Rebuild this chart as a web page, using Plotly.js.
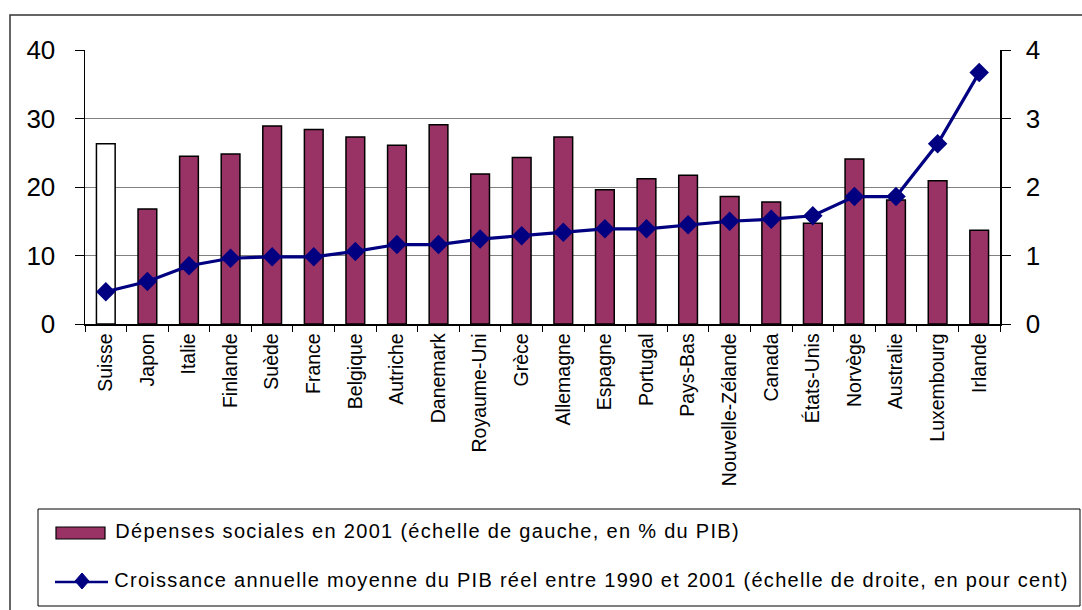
<!DOCTYPE html>
<html>
<head>
<meta charset="utf-8">
<script src="https://cdn.plot.ly/plotly-3.0.1.min.js"></script>
<style>
  html, body { margin: 0; padding: 0; background: #ffffff; }
  #chart { width: 1082px; height: 610px; }
  /* the key text is set slightly spaced out */
  #chart .annotation-text { letter-spacing: 1.3px; }
</style>
</head>
<body>
<div id="chart"></div>
<script>
// Countries, ordered by average real GDP growth
const countries = ["Suisse", "Japon", "Italie", "Finlande", "Suède", "France", "Belgique",
  "Autriche", "Danemark", "Royaume-Uni", "Grèce", "Allemagne", "Espagne", "Portugal",
  "Pays-Bas", "Nouvelle-Zélande", "Canada", "États-Unis", "Norvège", "Australie",
  "Luxembourg", "Irlande"];

// Social spending in 2001, % of GDP (left scale)
const socialSpending = [26.3, 16.8, 24.5, 24.8, 28.9, 28.4, 27.3, 26.1, 29.1, 21.9, 24.3,
  27.3, 19.6, 21.2, 21.7, 18.6, 17.8, 14.7, 24.1, 18.1, 20.9, 13.7];

// Average annual real GDP growth 1990-2001, per cent (right scale)
const gdpGrowth = [0.47, 0.62, 0.85, 0.96, 0.98, 0.98, 1.06, 1.16, 1.16, 1.24, 1.29,
  1.34, 1.39, 1.39, 1.45, 1.50, 1.53, 1.58, 1.86, 1.86, 2.63, 3.67];

const highlighted = "Suisse";

const legendLabels = [
  "Dépenses sociales en 2001 (échelle de gauche, en % du PIB)",
  "Croissance annuelle moyenne du PIB réel entre 1990 et 2001 (échelle de droite, en pour cent)"
];

const W = 1082, H = 610;
const M = { l: 85, r: 82, t: 50, b: 286 };
const PW = W - M.l - M.r, PH = H - M.t - M.b;
const BAR = "#993366", LINE = "#000080";
const FONT = "Liberation Sans, Arial, sans-serif";

// pixel -> paper coordinates for the frame and key decorations
const px = x => (x - M.l) / PW;
const py = y => (H - M.b - y) / PH;

const barTrace = {
  type: "bar",
  x: countries,
  y: socialSpending,
  width: 0.45,
  marker: {
    color: countries.map(c => c === highlighted ? "#ffffff" : BAR),
    line: { color: "#000000", width: 1.5 }
  },
  showlegend: false,
  hoverinfo: "x+y"
};

const lineTrace = {
  type: "scatter",
  mode: "lines+markers",
  x: countries,
  y: gdpGrowth,
  yaxis: "y2",
  line: { color: LINE, width: 3.2 },
  marker: { symbol: "diamond", size: 15, color: LINE },
  showlegend: false,
  cliponaxis: false
};

// Key box, outer frame and key symbols
const dx = 7, dy = 8, cx = 82, cy = 581;
const diamond = `M${px(cx)},${py(cy - dy)} L${px(cx + dx)},${py(cy)} L${px(cx)},${py(cy + dy)} L${px(cx - dx)},${py(cy)} Z`;

const shapes = [
  { type: "rect", xref: "paper", yref: "paper", x0: px(10), x1: px(1090), y0: py(15), y1: py(620),
    line: { color: "#333333", width: 1.5 }, fillcolor: "rgba(0,0,0,0)", layer: "below" },
  { type: "rect", xref: "paper", yref: "paper", x0: px(38), x1: px(1080), y0: py(509), y1: py(606),
    line: { color: "#000000", width: 1 }, fillcolor: "#ffffff" },
  { type: "rect", xref: "paper", yref: "paper", x0: px(56), x1: px(105), y0: py(527), y1: py(539),
    line: { color: "#000000", width: 1.2 }, fillcolor: BAR },
  { type: "line", xref: "paper", yref: "paper", x0: px(55), x1: px(108), y0: py(582), y1: py(582),
    line: { color: LINE, width: 2.5 } },
  { type: "path", xref: "paper", yref: "paper", path: diamond, fillcolor: LINE,
    line: { color: LINE, width: 1 } }
];

// key texts, centred on their spans (113-740 and 113-1068 px)
const keyCentres = [427, 591];
const keyRows = [531, 580];
const annotations = legendLabels.map((t, i) => ({
  xref: "paper", yref: "paper", x: px(keyCentres[i]), y: py(keyRows[i]),
  xanchor: "center", yanchor: "middle", showarrow: false, text: t,
  font: { family: FONT, size: 20, color: "#000000" }
}));

const layout = {
  width: W, height: H,
  margin: M,
  paper_bgcolor: "#ffffff",
  plot_bgcolor: "#ffffff",
  font: { family: FONT, color: "#000000" },
  bargap: 0.55,
  xaxis: {
    type: "category",
    range: [-0.5, countries.length - 0.5],
    showline: true, linecolor: "#000000", linewidth: 1.5,
    ticks: "outside", tickson: "boundaries", ticklen: 6, tickcolor: "#000000",
    tickangle: -90,
    tickfont: { family: FONT, size: 19.5, color: "#000000" },
    showgrid: false, fixedrange: true
  },
  yaxis: {
    range: [0, 40], dtick: 10,
    showline: true, linecolor: "#000000", linewidth: 1.5,
    ticks: "outside", ticklen: 9, tickcolor: "#000000",
    ticklabelstandoff: 14,
    tickfont: { family: FONT, size: 26, color: "#000000" },
    showgrid: true, gridcolor: "#808080", gridwidth: 1,
    zeroline: false, fixedrange: true
  },
  yaxis2: {
    range: [0, 4], dtick: 1,
    overlaying: "y", side: "right",
    showline: true, linecolor: "#000000", linewidth: 1.5,
    ticks: "outside", ticklen: 9, tickcolor: "#000000",
    ticklabelstandoff: 10,
    tickfont: { family: FONT, size: 26, color: "#000000" },
    showgrid: false, zeroline: false, fixedrange: true
  },
  shapes: shapes,
  annotations: annotations,
  showlegend: false
};

Plotly.newPlot("chart", [barTrace, lineTrace], layout, { displayModeBar: false, staticPlot: true });
</script>
</body>
</html>
